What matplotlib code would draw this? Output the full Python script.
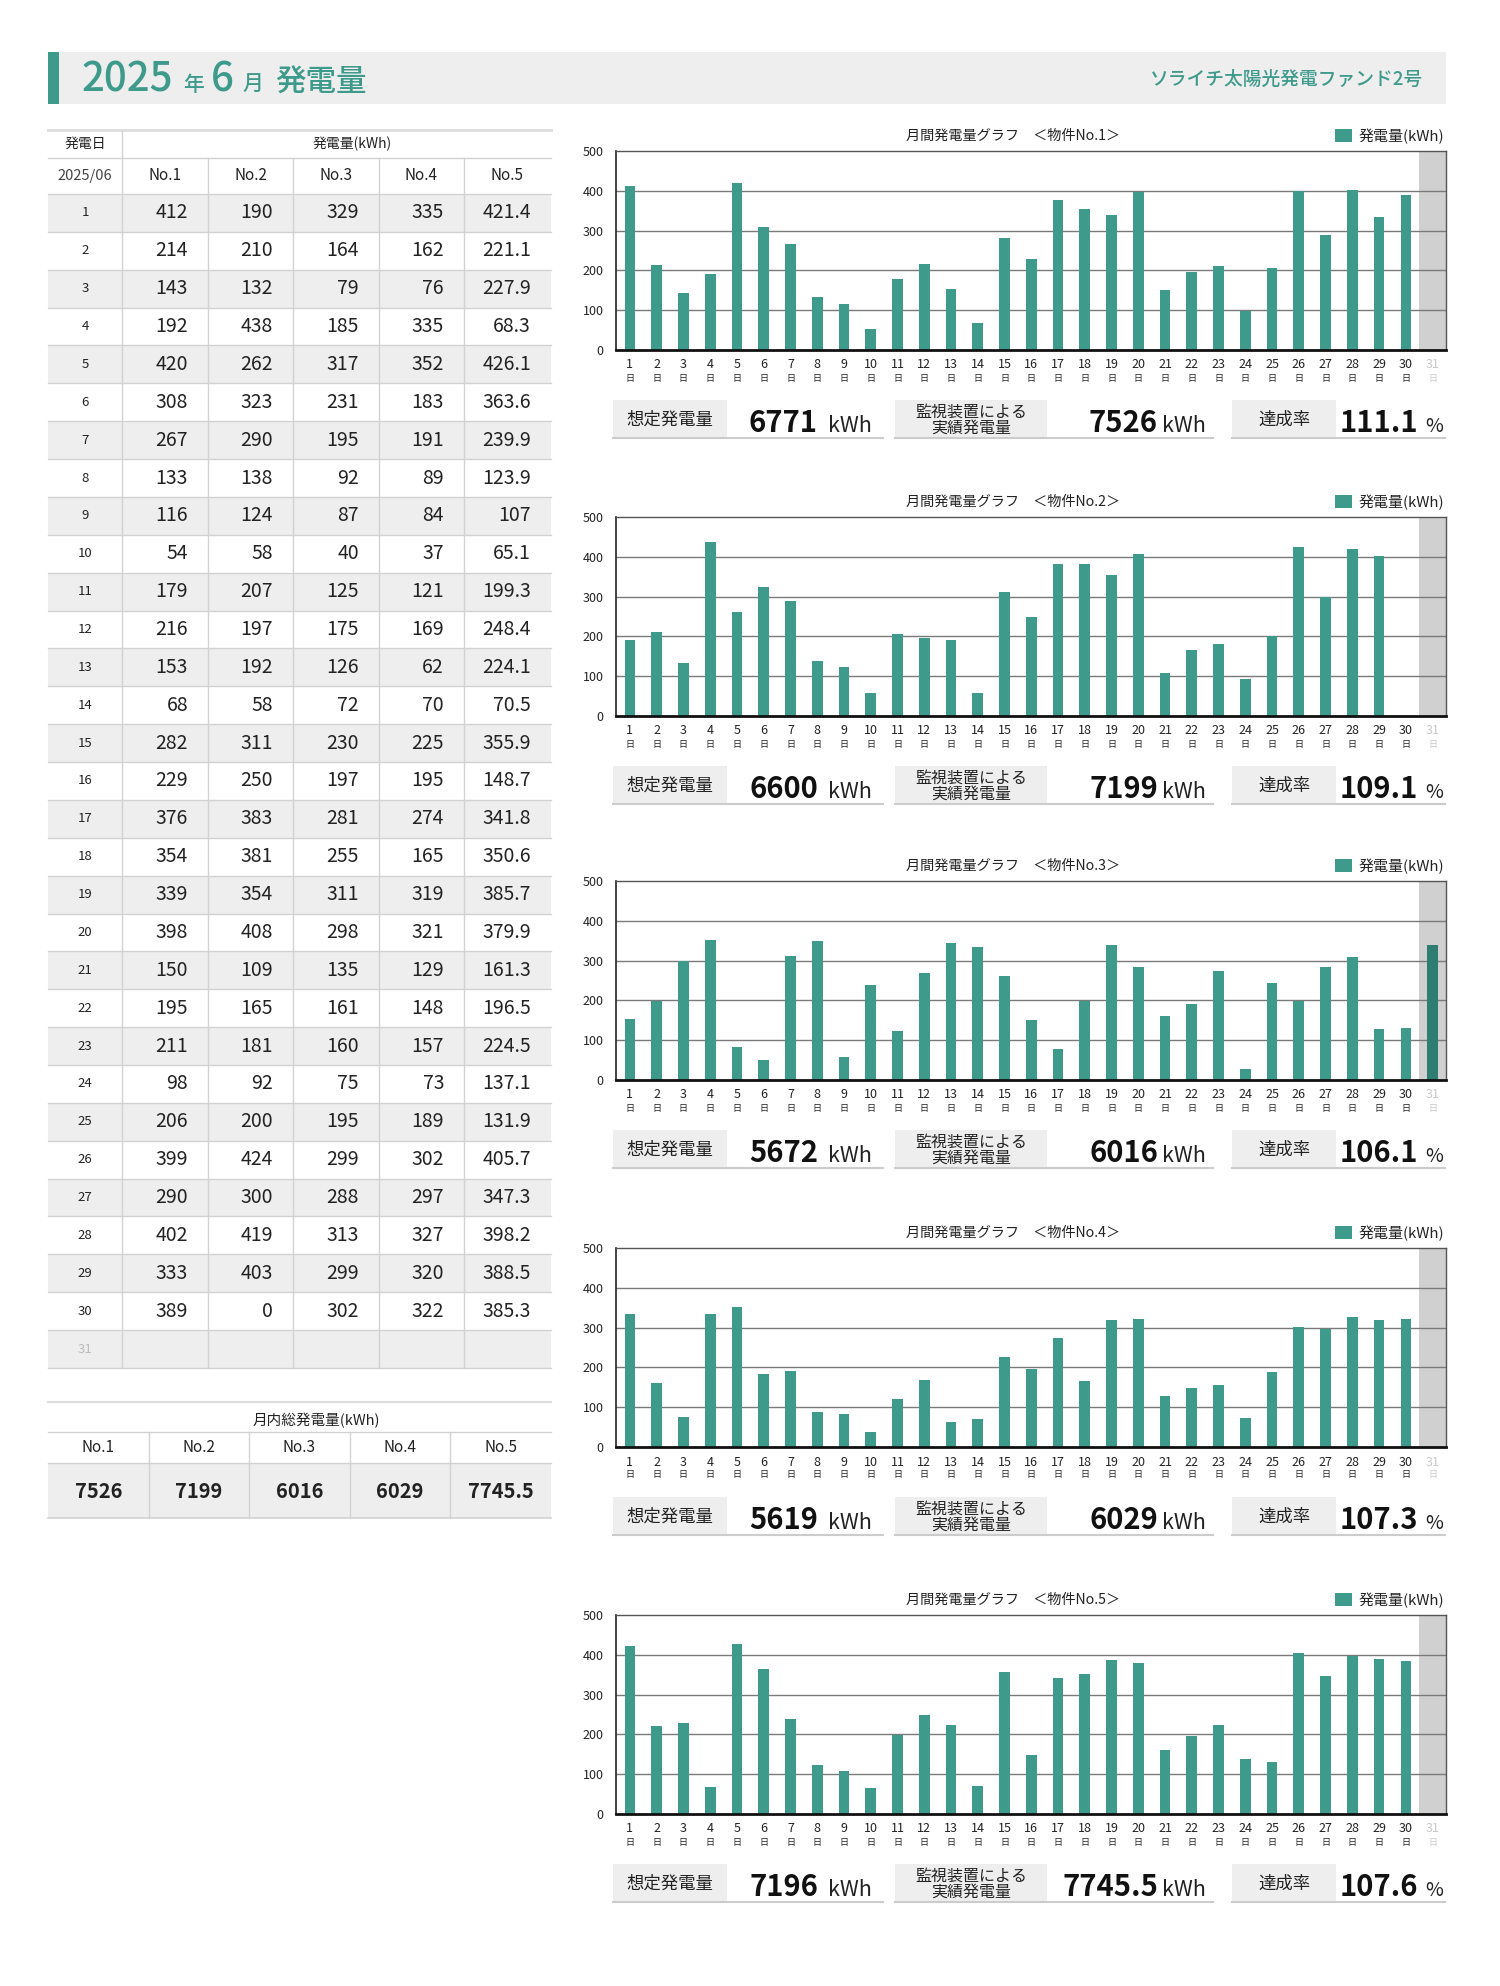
import matplotlib
matplotlib.use('Agg')
import matplotlib.pyplot as plt
from matplotlib.patches import Rectangle

plt.rcParams['font.family'] = ['Noto Sans CJK JP', 'DejaVu Sans']

# ---------------- data ----------------
days = list(range(1, 32))
no1 = [412, 214, 143, 192, 420, 308, 267, 133, 116, 54, 179, 216, 153, 68, 282,
       229, 376, 354, 339, 398, 150, 195, 211, 98, 206, 399, 290, 402, 333, 389]
no2 = [190, 210, 132, 438, 262, 323, 290, 138, 124, 58, 207, 197, 192, 58, 311,
       250, 383, 381, 354, 408, 109, 165, 181, 92, 200, 424, 300, 419, 403, 0]
no3 = [329, 164, 79, 185, 317, 231, 195, 92, 87, 40, 125, 175, 126, 72, 230,
       197, 281, 255, 311, 298, 135, 161, 160, 75, 195, 299, 288, 313, 299, 302]
no4 = [335, 162, 76, 335, 352, 183, 191, 89, 84, 37, 121, 169, 62, 70, 225,
       195, 274, 165, 319, 321, 129, 148, 157, 73, 189, 302, 297, 327, 320, 322]
no5 = [421.4, 221.1, 227.9, 68.3, 426.1, 363.6, 239.9, 123.9, 107, 65.1, 199.3,
       248.4, 224.1, 70.5, 355.9, 148.7, 341.8, 350.6, 385.7, 379.9, 161.3, 196.5,
       224.5, 137.1, 131.9, 405.7, 347.3, 398.2, 388.5, 385.3]
# bars as drawn in the graph for 物件No.3 (31 days)
chart3_bars = [154, 198, 300, 351, 83, 50, 312, 348, 58, 238, 122, 268, 343, 335, 261,
               151, 78, 199, 338, 284, 160, 192, 274, 27, 244, 199, 283, 310, 127, 131, 338]

table_cols = ['No.1', 'No.2', 'No.3', 'No.4', 'No.5']
totals = ['7526', '7199', '6016', '6029', '7745.5']
planned = ['6771', '6600', '5672', '5619', '7196']
actual = ['7526', '7199', '6016', '6029', '7745.5']
rates = ['111.1', '109.1', '106.1', '107.3', '107.6']

table_data = [no1, no2, no3, no4, no5]
chart_data = [no1, no2, chart3_bars, no4, no5]

# ---------------- style ----------------
TEAL = '#3e9a8b'
TEAL_DARK = '#2f7d70'
GREY_BG = '#eeeeee'
LINE = '#d2d2d2'
TXT = '#222222'

W, H = 1500, 1986
fig = plt.figure(figsize=(W / 100, H / 100), dpi=100)
cv = fig.add_axes([0, 0, 1, 1])
cv.set_xlim(0, W)
cv.set_ylim(H, 0)
cv.axis('off')

# ---------------- header ----------------
cv.add_patch(Rectangle((48, 52), 1398, 52, fc='#eeeeee', ec='none'))
cv.add_patch(Rectangle((48, 52), 11, 52, fc=TEAL, ec='none'))
base = 91
cv.text(81, base, '2025', fontsize=29, color=TEAL, va='baseline', ha='left', fontweight='medium')
cv.text(183, base, '年', fontsize=15, color=TEAL, va='baseline', ha='left', fontweight='medium')
cv.text(211, base, '6', fontsize=29, color=TEAL, va='baseline', ha='left', fontweight='medium')
cv.text(242, base, '月', fontsize=15, color=TEAL, va='baseline', ha='left', fontweight='medium')
cv.text(275, base + 1, '発電量', fontsize=22, color=TEAL, va='baseline', ha='left',
        fontweight='medium')
cv.text(1423, 79, 'ソライチ太陽光発電ファンド2号', fontsize=13.5, color=TEAL,
        va='center', ha='right', fontweight='medium')

# ---------------- daily table ----------------
col_x = [48, 122, 208, 293, 379, 464, 551]
row_top = 194
row_h = 37.87
n_rows = 31

cv.plot([48, 551], [130, 130], color='#dddddd', lw=2)
cv.plot([48, 551], [158, 158], color=LINE, lw=1)
cv.plot([48, 551], [row_top, row_top], color=LINE, lw=1)
cv.text((col_x[0] + col_x[1]) / 2, 144, '発電日', fontsize=10, color=TXT, ha='center', va='center')
cv.text(352, 144, '発電量(kWh)', fontsize=10, color=TXT, ha='center', va='center')
cv.text((col_x[0] + col_x[1]) / 2, 176, '2025/06', fontsize=10.5, color='#444444',
        ha='center', va='center')
for j, name in enumerate(table_cols):
    cv.text((col_x[j + 1] + col_x[j + 2]) / 2, 176, name, fontsize=11, color=TXT,
            ha='center', va='center')

for i in range(n_rows):
    y0 = row_top + i * row_h
    if i % 2 == 0:
        cv.add_patch(Rectangle((48, y0), 503, row_h, fc=GREY_BG, ec='none', zorder=0))
    cv.plot([48, 551], [y0 + row_h] * 2, color=LINE, lw=1)
    yc = y0 + row_h / 2
    cv.text((col_x[0] + col_x[1]) / 2, yc, str(days[i]), fontsize=9.5,
            color='#bbbbbb' if i == 30 else TXT, ha='center', va='center')
    if i < 30:
        for j in range(5):
            v = table_data[j][i]
            s = f'{v:g}'
            cv.text(col_x[j + 2] - 20, yc, s, fontsize=14, color=TXT, ha='right', va='center')

table_bottom = row_top + n_rows * row_h
cv.plot([col_x[1]] * 2, [130, table_bottom], color=LINE, lw=1)
for x in col_x[2:6]:
    cv.plot([x, x], [158, table_bottom], color=LINE, lw=1)

# ---------------- totals table ----------------
tx = [48 + k * 100.6 for k in range(6)]
cv.plot([48, 551], [1402, 1402], color='#dddddd', lw=1.5)
cv.text(316, 1420, '月内総発電量(kWh)', fontsize=10.5, color=TXT, ha='center', va='center')
cv.plot([48, 551], [1432, 1432], color=LINE, lw=1)
cv.add_patch(Rectangle((48, 1463), 503, 55, fc=GREY_BG, ec='none'))
cv.plot([48, 551], [1463, 1463], color=LINE, lw=1)
cv.plot([48, 551], [1518, 1518], color=LINE, lw=1.2)
for k in range(1, 5):
    cv.plot([tx[k]] * 2, [1432, 1518], color=LINE, lw=1)
for k in range(5):
    cxm = (tx[k] + tx[k + 1]) / 2
    cv.text(cxm, 1448, table_cols[k], fontsize=11, color=TXT, ha='center', va='center')
    cv.text(cxm, 1492, totals[k], fontsize=14.5, color=TXT, ha='center', va='center',
            fontweight='bold')

# ---------------- charts ----------------
ax_left, ax_right = 616, 1446
ax_h = 199
tops = [151, 517, 881, 1248, 1615]

for c in range(5):
    top = tops[c]
    bottom = top + ax_h
    ax = fig.add_axes([ax_left / W, 1 - bottom / H, (ax_right - ax_left) / W, ax_h / H])
    vals = chart_data[c]
    nb = len(vals)
    ax.axvspan(30.5, 31.5, color='#d0d0d0', zorder=0, lw=0)
    for gy in [100, 200, 300, 400]:
        ax.axhline(gy, color='#7a7a7a', lw=1.0, zorder=1)
    colors = [TEAL] * min(nb, 30) + [TEAL_DARK] * (nb - 30)
    ax.bar(days[:nb], vals, width=0.4, color=colors, zorder=2)
    ax.set_xlim(0.48, 31.5)
    ax.set_ylim(0, 500)
    ax.set_yticks([0, 100, 200, 300, 400, 500])
    ax.set_yticklabels(['0', '100', '200', '300', '400', '500'], fontsize=9, color=TXT)
    ax.tick_params(axis='y', length=0, pad=9)
    ax.set_xticks([])
    for sp in ['top', 'right']:
        ax.spines[sp].set_color('#555555')
        ax.spines[sp].set_linewidth(1.0)
    ax.spines['left'].set_color('#222222')
    ax.spines['left'].set_linewidth(1.2)
    ax.spines['bottom'].set_color('#111111')
    ax.spines['bottom'].set_linewidth(2.0)
    trans = ax.get_xaxis_transform()
    for d in days:
        col = '#c8c8c8' if d == 31 else TXT
        ax.text(d, -15 / ax_h, str(d), transform=trans, fontsize=9, color=col,
                ha='center', va='center')
        ax.text(d, -28 / ax_h, '日', transform=trans, fontsize=6.5, color=col,
                ha='center', va='center')

    # title & legend
    ty = top - 15
    cv.text(1013, ty, f'月間発電量グラフ　＜物件{table_cols[c]}＞', fontsize=10.2, color=TXT,
            ha='center', va='center')
    cv.add_patch(Rectangle((1335, ty - 7), 17, 13, fc=TEAL, ec='none'))
    cv.text(1359, ty, '発電量(kWh)', fontsize=10.8, color=TXT, ha='left', va='center')

    # summary row
    by0 = bottom + 50
    by1 = by0 + 38
    ymid = (by0 + by1) / 2
    vb = by1 - 6
    cv.add_patch(Rectangle((613, by0), 114, 38, fc=GREY_BG, ec='none'))
    cv.add_patch(Rectangle((895, by0), 152, 38, fc=GREY_BG, ec='none'))
    cv.add_patch(Rectangle((1232, by0), 104, 38, fc=GREY_BG, ec='none'))
    for x0, x1 in [(613, 883), (895, 1213), (1232, 1445)]:
        cv.plot([x0, x1], [by1, by1], color='#cccccc', lw=1.5)
    cv.text(670, ymid + 1, '想定発電量', fontsize=12.5, color=TXT, ha='center', va='center')
    cv.text(971, ymid + 1, '監視装置による\n実績発電量', fontsize=11.5, color=TXT, ha='center',
            va='center', linespacing=0.95)
    cv.text(1284, ymid + 1, '達成率', fontsize=12.5, color=TXT, ha='center', va='center')
    cv.text(818, vb, planned[c], fontsize=21, fontweight='bold', color='#111111',
            ha='right', va='baseline')
    cv.text(828, vb, 'kWh', fontsize=15.5, color=TXT, ha='left', va='baseline')
    cv.text(1158, vb, actual[c], fontsize=21, fontweight='bold', color='#111111',
            ha='right', va='baseline')
    cv.text(1162, vb, 'kWh', fontsize=15.5, color=TXT, ha='left', va='baseline')
    cv.text(1418, vb, rates[c], fontsize=21, fontweight='bold', color='#111111',
            ha='right', va='baseline')
    cv.text(1425, vb, '%', fontsize=14, color=TXT, ha='left', va='baseline')

fig.savefig('out.png', dpi=100)
